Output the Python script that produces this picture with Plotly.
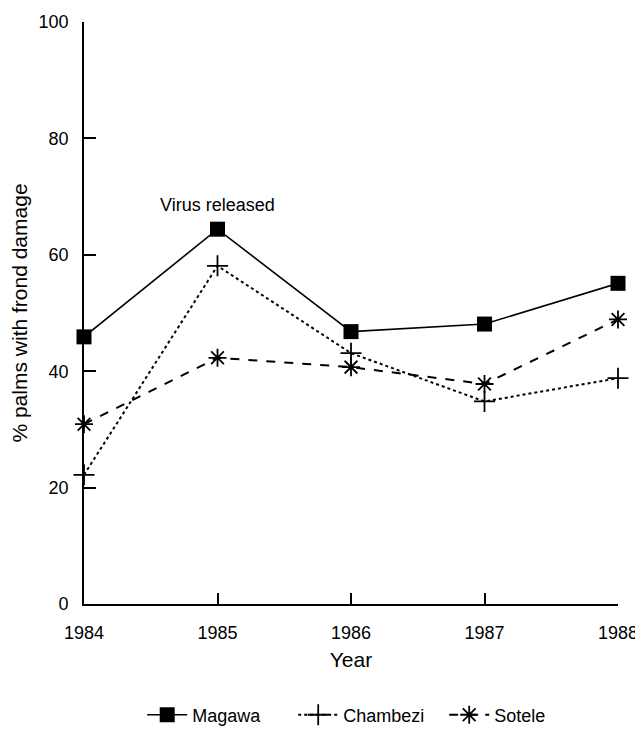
import plotly.graph_objects as go

years = [1984, 1985, 1986, 1987, 1988]
magawa = [45.9, 64.4, 46.8, 48.1, 55.1]
chambezi = [22.2, 58.1, 43.1, 34.8, 38.8]
sotele = [30.9, 42.3, 40.7, 37.8, 48.9]
y_ticks = [0, 20, 40, 60, 80, 100]

FONT = "Liberation Sans, Arial, Helvetica, sans-serif"
FS = 18
TFS = 21

fig = go.Figure()
fig.add_trace(go.Scatter(
    x=years, y=magawa, name="Magawa", mode="lines+markers",
    line=dict(color="black", width=1.6, dash="solid"),
    marker=dict(symbol="square", size=15, color="black"),
    cliponaxis=False))
fig.add_trace(go.Scatter(
    x=years, y=chambezi, name="Chambezi", mode="lines+markers",
    line=dict(color="black", width=2, dash="dot"),
    marker=dict(symbol="cross-thin", size=15, color="black",
                line=dict(color="black", width=1.8)),
    cliponaxis=False))
fig.add_trace(go.Scatter(
    x=years, y=sotele, name="Sotele", mode="lines+markers",
    line=dict(color="black", width=2, dash="dash"),
    marker=dict(symbol="asterisk-open", size=15, color="black",
                line=dict(color="black", width=1.8)),
    cliponaxis=False))

fig.add_annotation(x=1985, y=64.4, text="Virus released", showarrow=False,
                   yshift=24, font=dict(size=FS, color="black", family=FONT))

fig.update_layout(
    width=635, height=721,
    margin=dict(l=76, r=25, t=14, b=125, autoexpand=False),
    paper_bgcolor="white", plot_bgcolor="white",
    font=dict(family=FONT, size=FS, color="black"),
    showlegend=True,
    legend=dict(orientation="h", x=0.109, xanchor="left", y=-0.159, yanchor="top",
                font=dict(size=FS), itemwidth=40, tracegroupgap=0,
                entrywidth=96),
)
fig.update_xaxes(
    range=[1984, 1988], tickvals=years, ticktext=[str(y) for y in years],
    showgrid=False, zeroline=False, showline=True, linecolor="black", linewidth=1.6,
    ticks="inside", ticklen=11, tickwidth=1.6, tickcolor="black",
    title=dict(text="Year", standoff=10, font=dict(size=TFS)),
    ticklabelstandoff=12, automargin=False,
)
fig.update_yaxes(
    range=[0, 100], tickvals=y_ticks,
    showgrid=False, zeroline=False, showline=True, linecolor="black", linewidth=1.6,
    ticks="inside", ticklen=12, tickwidth=1.6, tickcolor="black",
    title=dict(text="% palms with frond damage", standoff=14, font=dict(size=TFS)),
    ticklabelstandoff=10, automargin=False,
)

fig.write_html("out.html")
